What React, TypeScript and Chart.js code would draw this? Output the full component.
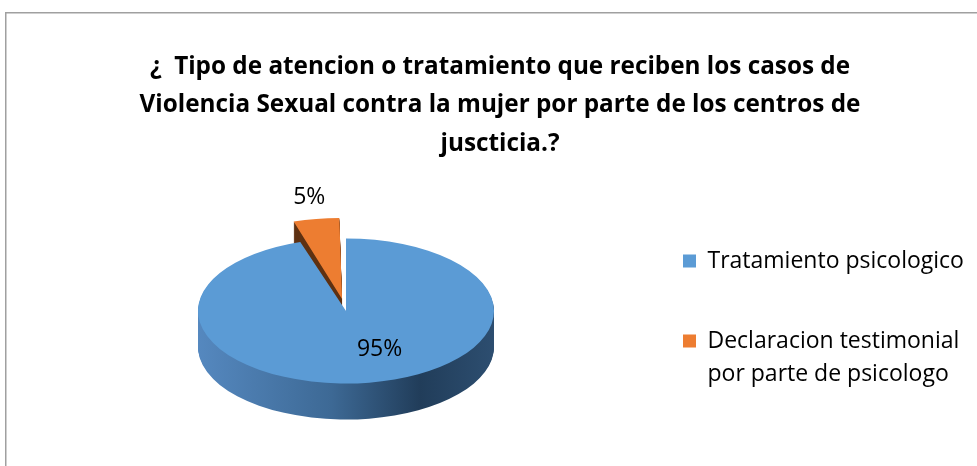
import React, { useEffect, useRef } from "react";
import { Chart, registerables } from "chart.js";

Chart.register(...registerables);

// ---------- data ----------
const TITLE_LINES = [
  "¿  Tipo de atencion o tratamiento que reciben los casos de",
  "Violencia Sexual contra la mujer por parte de los centros de",
  "juscticia.?",
];
const CATEGORIES = ["Tratamiento psicologico", "Declaracion testimonial por parte de psicologo"];
const LEGEND_LINES = [["Tratamiento psicologico", ""], ["Declaracion testimonial   ", "por parte de psicologo"]];
const VALUES = [95, 5];
const TOP_COLORS = ["#5b9bd5", "#ed7d31"];
const EXPLODE = [0, 100];

// ---------- style ----------
const FONT = "'Open Sans'";
const ELLIPSE_RATIO = 0.49;
const SIDE_DEPTHS = [36, 22];
const LABEL_RADIUS = [0.58, 1.3];
const LABEL_ANGLE_SHIFT = [(-14 * Math.PI) / 180, 0];

function sideStyle(ctx: CanvasRenderingContext2D, i: number, cx: number, r: number) {
  if (i === 0) {
    const g = ctx.createLinearGradient(cx - r, 0, cx + r, 0);
    g.addColorStop(0, "#5588bf");
    g.addColorStop(0.45, "#3d6995");
    g.addColorStop(0.75, "#213d5a");
    g.addColorStop(1, "#2d4e70");
    return g;
  }
  return "#5e3112";
}

const pie3d: any = {
  id: "pie3d",
  beforeDraw(chart: any) {
    const ctx = chart.ctx;
    ctx.save();
    ctx.fillStyle = "#ffffff";
    ctx.fillRect(0, 0, chart.width, chart.height);
    ctx.strokeStyle = "#a0a0a0";
    ctx.lineWidth = 1.5;
    ctx.strokeRect(5.75, 12.75, 2000, 2000);
    ctx.restore();
  },
  beforeDatasetsDraw(chart: any) {
    const ctx = chart.ctx;
    const arcs = chart.getDatasetMeta(0).data as any[];
    chart.$pie3dSaved = false;
    if (!arcs.length) return;
    const cx = arcs[0].x;
    const cy = arcs[0].y;
    const r = arcs[0].outerRadius;
    arcs.forEach((arc: any, i: number) => {
      const o = arc.options;
      const fake = Object.create(arc);
      fake.options = {
        offset: o.offset,
        spacing: o.spacing,
        circular: o.circular,
        borderAlign: o.borderAlign,
        borderRadius: o.borderRadius,
        borderJoinStyle: o.borderJoinStyle,
        borderDash: o.borderDash,
        borderDashOffset: o.borderDashOffset,
        selfJoin: o.selfJoin,
        borderColor: o.borderColor,
        borderWidth: 0,
        backgroundColor: sideStyle(ctx, i, cx, r),
      };
      for (let d = SIDE_DEPTHS[i]; d >= 1; d--) {
        ctx.save();
        ctx.translate(cx, cy + d);
        ctx.scale(1, ELLIPSE_RATIO);
        ctx.translate(-cx, -cy);
        fake.draw(ctx);
        ctx.restore();
      }
    });
    ctx.save();
    ctx.translate(cx, cy);
    ctx.scale(1, ELLIPSE_RATIO);
    ctx.translate(-cx, -cy);
    chart.$pie3dSaved = true;
  },
  afterDatasetsDraw(chart: any) {
    const ctx = chart.ctx;
    if (chart.$pie3dSaved) ctx.restore();
    chart.$pie3dSaved = false;
    const arcs = chart.getDatasetMeta(0).data as any[];
    const total = VALUES.reduce((a, b) => a + b, 0);
    ctx.save();
    ctx.font = `23px ${FONT}`;
    ctx.fillStyle = "#000000";
    ctx.textAlign = "center";
    ctx.textBaseline = "middle";
    arcs.forEach((arc: any, i: number) => {
      const mid = (arc.startAngle + arc.endAngle) / 2;
      const off = (arc.options.offset || 0) / 4;
      const fix = 1 - Math.sin(Math.min(Math.PI, arc.circumference || 0));
      const t = off + off * fix;
      const tx = arc.x + Math.cos(mid) * t;
      const ty = arc.y + Math.sin(mid) * t * ELLIPSE_RATIO;
      const la = mid + LABEL_ANGLE_SHIFT[i];
      const lr = arc.outerRadius * LABEL_RADIUS[i];
      const px = tx + Math.cos(la) * lr;
      const py = ty + Math.sin(la) * lr * ELLIPSE_RATIO;
      ctx.fillText(Math.round((VALUES[i] / total) * 100) + "%", px, py);
    });
    ctx.restore();
  },
};

export default function App() {
  const ref = useRef<HTMLCanvasElement>(null);
  useEffect(() => {
    document.body.style.margin = "0";
    const chart = new Chart(ref.current as HTMLCanvasElement, {
      type: "pie",
      data: {
        labels: CATEGORIES,
        datasets: [
          {
            data: VALUES,
            backgroundColor: TOP_COLORS,
            borderWidth: 0,
            offset: EXPLODE,
            radius: 148,
            clip: false,
          } as any,
        ],
      },
      options: {
        responsive: false,
        animation: false,
        events: [],
        layout: { padding: { left: 23, right: 0, top: 0, bottom: 56.4 } },
        plugins: {
          title: {
            display: true,
            text: TITLE_LINES,
            color: "#000000",
            font: { family: FONT, size: 24.3, weight: "bold", lineHeight: 38.75 / 24.3 },
            padding: { top: 47.2, bottom: 48.95 },
          },
          legend: {
            display: true,
            position: "right",
            align: "end",
            maxWidth: 308,
            labels: {
              boxWidth: 13,
              boxHeight: 13,
              padding: 14,
              color: "#000000",
              font: { family: FONT, size: 23, lineHeight: 33 / 23 },
              generateLabels: () =>
                LEGEND_LINES.map((lines, i) => ({
                  text: lines,
                  fillStyle: TOP_COLORS[i],
                  strokeStyle: TOP_COLORS[i],
                  lineWidth: 0,
                  hidden: false,
                  index: i,
                  fontColor: "#000000",
                })) as any,
            },
          },
          tooltip: { enabled: false },
        },
      } as any,
      plugins: [pie3d],
    });
    return () => chart.destroy();
  }, []);
  return (
    <div style={{ width: 977, height: 466, background: "#fff" }}>
      <canvas ref={ref} width={977} height={466} style={{ display: "block" }} />
    </div>
  );
}
